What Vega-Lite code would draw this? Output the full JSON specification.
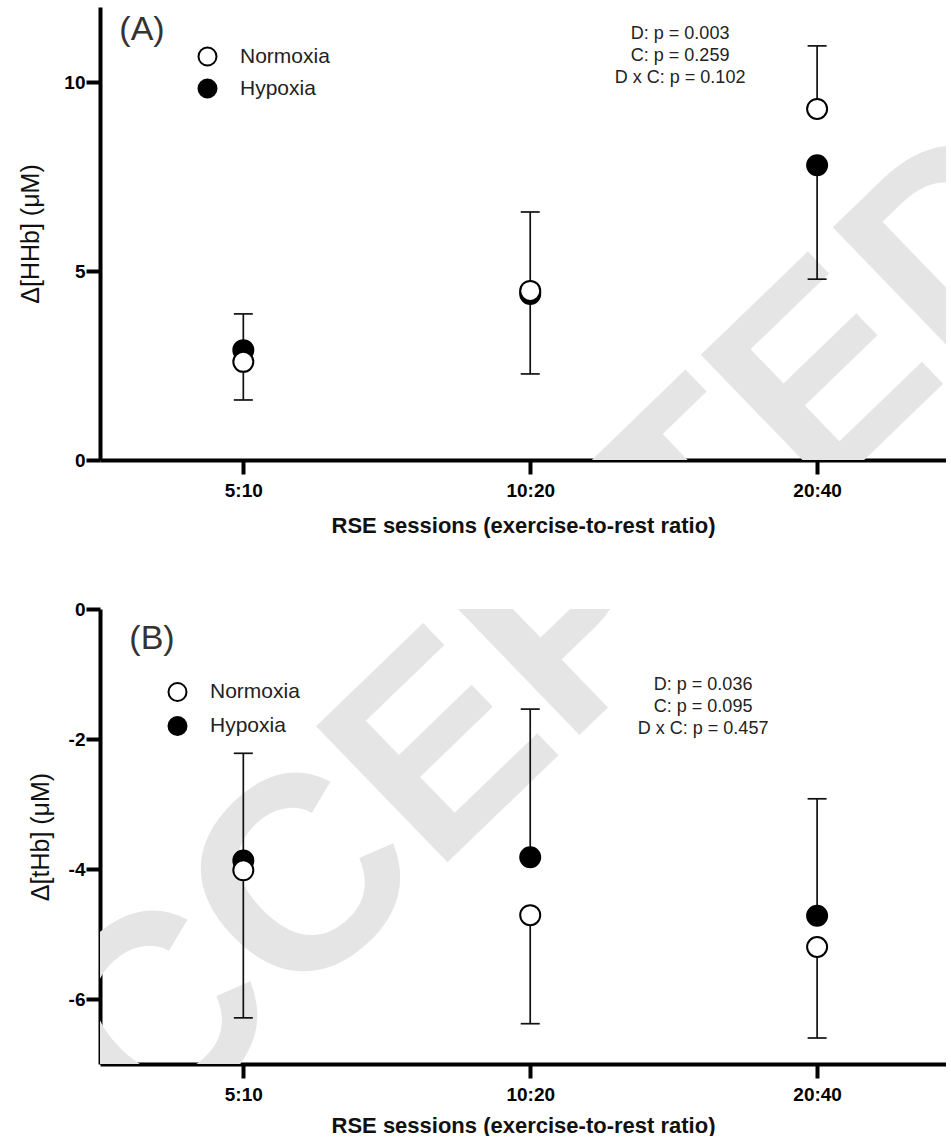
{
  "$schema": "https://vega.github.io/schema/vega-lite/v6.json",
  "padding": {"left": 18, "top": 7, "right": 0, "bottom": 0},
  "background": "white",
  "bounds": "flush",
  "spacing": 149,
  "config": {
    "font": "Liberation Sans",
    "view": {"stroke": null},
    "axis": {"domainColor": "black", "domainWidth": 4, "tickColor": "black", "tickWidth": 4, "tickSize": 14, "labelFont": "Liberation Sans", "labelFontWeight": "bold", "labelFontSize": 19, "labelColor": "black", "titleFont": "Liberation Sans", "titleColor": "#111", "grid": false, "zindex": 1}
  },
  "datasets": {
    "hhb": [
      {"session": "5:10", "condition": "Hypoxia", "mean": 2.91, "err": 1.59},
      {"session": "10:20", "condition": "Hypoxia", "mean": 4.40, "err": 2.28},
      {"session": "20:40", "condition": "Hypoxia", "mean": 7.81, "err": 4.79},
      {"session": "5:10", "condition": "Normoxia", "mean": 2.60, "err": 3.87},
      {"session": "10:20", "condition": "Normoxia", "mean": 4.48, "err": 6.57},
      {"session": "20:40", "condition": "Normoxia", "mean": 9.30, "err": 10.97}
    ],
    "thb": [
      {"session": "5:10", "condition": "Hypoxia", "mean": -3.87, "err": -2.22},
      {"session": "10:20", "condition": "Hypoxia", "mean": -3.82, "err": -1.54},
      {"session": "20:40", "condition": "Hypoxia", "mean": -4.72, "err": -2.92},
      {"session": "5:10", "condition": "Normoxia", "mean": -4.02, "err": -6.29},
      {"session": "10:20", "condition": "Normoxia", "mean": -4.71, "err": -6.38},
      {"session": "20:40", "condition": "Normoxia", "mean": -5.20, "err": -6.60}
    ]
  },
  "resolve": {"scale": {"x": "independent", "y": "independent", "fill": "independent"}, "legend": {"fill": "independent"}},
  "vconcat": [
    {
      "width": 846,
      "height": 453,
      "data": {"name": "hhb"},
      "encoding": {
        "x": {"field": "session", "type": "ordinal", "scale": {"type": "point", "domain": ["5:10", "10:20", "20:40"], "padding": 0.4744, "align": 0.5265}, "axis": {"title": "RSE sessions (exercise-to-rest ratio)", "labelAngle": 0, "labelPadding": 7, "titleFontSize": 22, "titleFontWeight": "bold", "titlePadding": 15}},
        "y": {"field": "mean", "type": "quantitative", "scale": {"domain": [0, 12], "nice": false, "zero": false}, "axis": {"title": "Δ[HHb] (μM)", "values": [0, 5, 10], "labelPadding": 1, "titleFontSize": 25, "titleFontWeight": "normal", "titlePadding": 20}}
      },
      "layer": [
        {
          "transform": [{"filter": "datum.session == '10:20' && datum.condition == 'Hypoxia'"}],
          "mark": {"type": "text", "text": "ACCEPTED", "font": "Liberation Sans", "fontWeight": "bold", "fontSize": 275, "angle": -44, "color": "#e5e5e5", "align": "center", "baseline": "middle", "clip": true, "dx": -53},
          "encoding": {"y": {"datum": -5.486, "type": "quantitative"}}
        },
        {
          "mark": {"type": "rule", "color": "#111", "strokeWidth": 1.7},
          "encoding": {"y2": {"field": "err"}}
        },
        {
          "mark": {"type": "tick", "size": 19, "thickness": 1.7, "color": "#111", "opacity": 1},
          "encoding": {"y": {"field": "err", "type": "quantitative"}}
        },
        {
          "mark": {"type": "point", "shape": "circle", "size": 400, "filled": true, "stroke": "black", "strokeWidth": 2, "opacity": 1},
          "encoding": {
            "fill": {"field": "condition", "type": "nominal", "scale": {"domain": ["Normoxia", "Hypoxia"], "range": ["white", "black"]}, "legend": {"orient": "none", "legendX": 97, "legendY": 39, "title": null, "symbolType": "circle", "symbolSize": 324, "symbolStrokeColor": "black", "symbolStrokeWidth": 2, "symbolOpacity": 1, "labelFontSize": 21, "labelFont": "Liberation Sans", "labelColor": "#222", "labelOffset": 22, "rowPadding": 5, "padding": 0}}
          }
        },
        {
          "transform": [{"filter": "datum.session == '5:10' && datum.condition == 'Hypoxia'"}],
          "mark": {"type": "text", "text": "(A)", "fontSize": 34, "color": "#333", "align": "left", "baseline": "alphabetic", "dx": -124},
          "encoding": {"y": {"datum": 11.13, "type": "quantitative"}}
        },
        {
          "transform": [{"filter": "datum.session == '20:40' && datum.condition == 'Hypoxia'"}],
          "mark": {"type": "text", "text": ["D: p = 0.003", "C: p = 0.259", "D x C: p = 0.102"], "fontSize": 18, "lineHeight": 22, "color": "#222", "align": "center", "baseline": "top", "dx": -137},
          "encoding": {"y": {"datum": 11.52, "type": "quantitative"}}
        }
      ]
    },
    {
      "width": 846,
      "height": 455,
      "data": {"name": "thb"},
      "encoding": {
        "x": {"field": "session", "type": "ordinal", "scale": {"type": "point", "domain": ["5:10", "10:20", "20:40"], "padding": 0.4744, "align": 0.5265}, "axis": {"title": "RSE sessions (exercise-to-rest ratio)", "labelAngle": 0, "labelPadding": 7, "titleFontSize": 22, "titleFontWeight": "bold", "titlePadding": 11}},
        "y": {"field": "mean", "type": "quantitative", "scale": {"domain": [-7, 0], "nice": false, "zero": false}, "axis": {"title": "Δ[tHb] (μM)", "values": [0, -2, -4, -6], "labelExpr": "datum.value == 0 ? '0' : '-' + abs(datum.value)", "labelPadding": 1, "titleFontSize": 25, "titleFontWeight": "normal", "titlePadding": 15}}
      },
      "layer": [
        {
          "transform": [{"filter": "datum.session == '10:20' && datum.condition == 'Hypoxia'"}],
          "mark": {"type": "text", "text": "ACCEPTED", "font": "Liberation Sans", "fontWeight": "bold", "fontSize": 275, "angle": -44, "color": "#e5e5e5", "align": "center", "baseline": "middle", "clip": true, "dx": -53},
          "encoding": {"y": {"datum": -0.894, "type": "quantitative"}}
        },
        {
          "mark": {"type": "rule", "color": "#111", "strokeWidth": 1.7},
          "encoding": {"y2": {"field": "err"}}
        },
        {
          "mark": {"type": "tick", "size": 19, "thickness": 1.7, "color": "#111", "opacity": 1},
          "encoding": {"y": {"field": "err", "type": "quantitative"}}
        },
        {
          "mark": {"type": "point", "shape": "circle", "size": 400, "filled": true, "stroke": "black", "strokeWidth": 2, "opacity": 1},
          "encoding": {
            "fill": {"field": "condition", "type": "nominal", "scale": {"domain": ["Normoxia", "Hypoxia"], "range": ["white", "black"]}, "legend": {"orient": "none", "legendX": 67, "legendY": 72.5, "title": null, "symbolType": "circle", "symbolSize": 324, "symbolStrokeColor": "black", "symbolStrokeWidth": 2, "symbolOpacity": 1, "labelFontSize": 21, "labelFont": "Liberation Sans", "labelColor": "#222", "labelOffset": 22, "rowPadding": 7, "padding": 0}}
          }
        },
        {
          "transform": [{"filter": "datum.session == '5:10' && datum.condition == 'Hypoxia'"}],
          "mark": {"type": "text", "text": "(B)", "fontSize": 34, "color": "#333", "align": "left", "baseline": "alphabetic", "dx": -114},
          "encoding": {"y": {"datum": -0.615, "type": "quantitative"}}
        },
        {
          "transform": [{"filter": "datum.session == '20:40' && datum.condition == 'Hypoxia'"}],
          "mark": {"type": "text", "text": ["D: p = 0.036", "C: p = 0.095", "D x C: p = 0.457"], "fontSize": 18, "lineHeight": 22, "color": "#222", "align": "center", "baseline": "top", "dx": -114},
          "encoding": {"y": {"datum": -1.025, "type": "quantitative"}}
        }
      ]
    }
  ]
}
